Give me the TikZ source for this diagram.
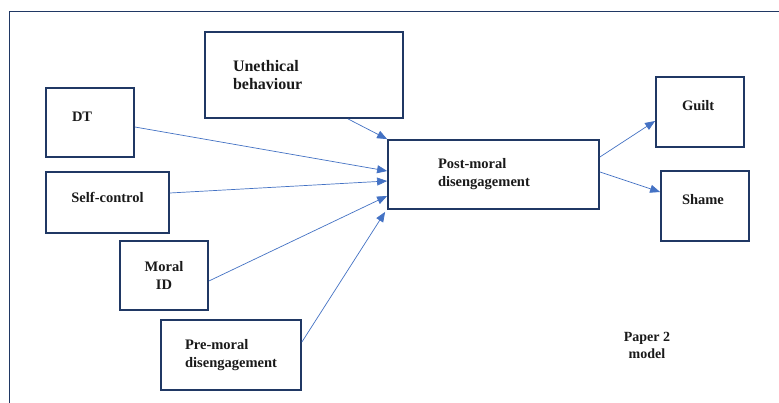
\documentclass[tikz,border=0pt]{standalone}
\usepackage{fontspec}
\setmainfont{Liberation Serif}
\usetikzlibrary{arrows.meta,calc}
\definecolor{cBox}{HTML}{203864}
\definecolor{cArrow}{HTML}{4472C4}
\definecolor{cText}{HTML}{1A1A1A}
\tikzset{
  box/.style={draw=cBox, line width=1.8pt, fill=white, inner sep=0pt, align=left,
              text=cText, font=\fontsize{14.5}{18}\selectfont\bfseries},
  ar/.style={-{Triangle[length=10pt,width=8pt]}, line width=0.7pt, cArrow},
  frm/.style={draw=cBox, line width=1.8pt},
  lbl/.style={align=center, text=cText, font=\fontsize{14}{17}\selectfont\bfseries},
}

\begin{document}
\begin{tikzpicture}[x=1pt,y=-1pt]
\clip (0,0) rectangle (779,403);
\fill[white] (0,0) rectangle (779,403);
\draw[frm] (9.5,11.5) rectangle (820,440);

% predictors
\node[box, minimum width=198pt, minimum height=86pt, text width=142pt,
      font=\fontsize{16}{18}\selectfont\bfseries] (unethical) at (304,75) {Unethical\\behaviour};
\node[box, minimum width=88pt, minimum height=69pt, text width=36pt, text depth=11pt] (dt) at (90,122.5) {DT};
\node[box, minimum width=123pt, minimum height=61pt, align=center, text depth=11pt] (selfctrl) at (107.5,202.5) {Self-control};
\node[box, minimum width=88pt, minimum height=69pt, align=center] (moralid) at (164,275.5) {Moral\\ID};
\node[box, minimum width=140pt, minimum height=70pt] (premoral) at (231,355) {Pre-moral\\disengagement};

% mediator and outcomes
\node[box, minimum width=211pt, minimum height=69pt, text width=111pt] (post) at (493.5,174.5) {Post-moral\\disengagement};
\node[box, minimum width=88pt, minimum height=70pt, text width=36pt, text depth=14pt] (guilt) at (700,112) {Guilt};
\node[box, minimum width=88pt, minimum height=70pt, text width=46pt, text depth=14pt] (shame) at (705,206) {Shame};

\node[lbl] (paper) at (647,345) {Paper 2\\model};

\draw[ar] ($(unethical.south west)!0.72!(unethical.south east)$) -- (post.north west);
\draw[ar] ([yshift=-4.5pt]dt.east) -- ([yshift=3.5pt]post.west);
\draw[ar] ([yshift=9.5pt]selfctrl.east) -- ([yshift=-6.5pt]post.west);
\draw[ar] ([yshift=-5.5pt]moralid.east) -- ([yshift=-21.5pt]post.west);
\draw[ar] ([yshift=13pt]premoral.east) -- ([xshift=-2pt,yshift=-2pt]post.south west);
\draw[ar] ([yshift=17.5pt]post.east) -- ([yshift=-9pt]guilt.west);
\draw[ar] ([yshift=2.5pt]post.east) -- ([yshift=14pt]shame.west);
\end{tikzpicture}
\end{document}
